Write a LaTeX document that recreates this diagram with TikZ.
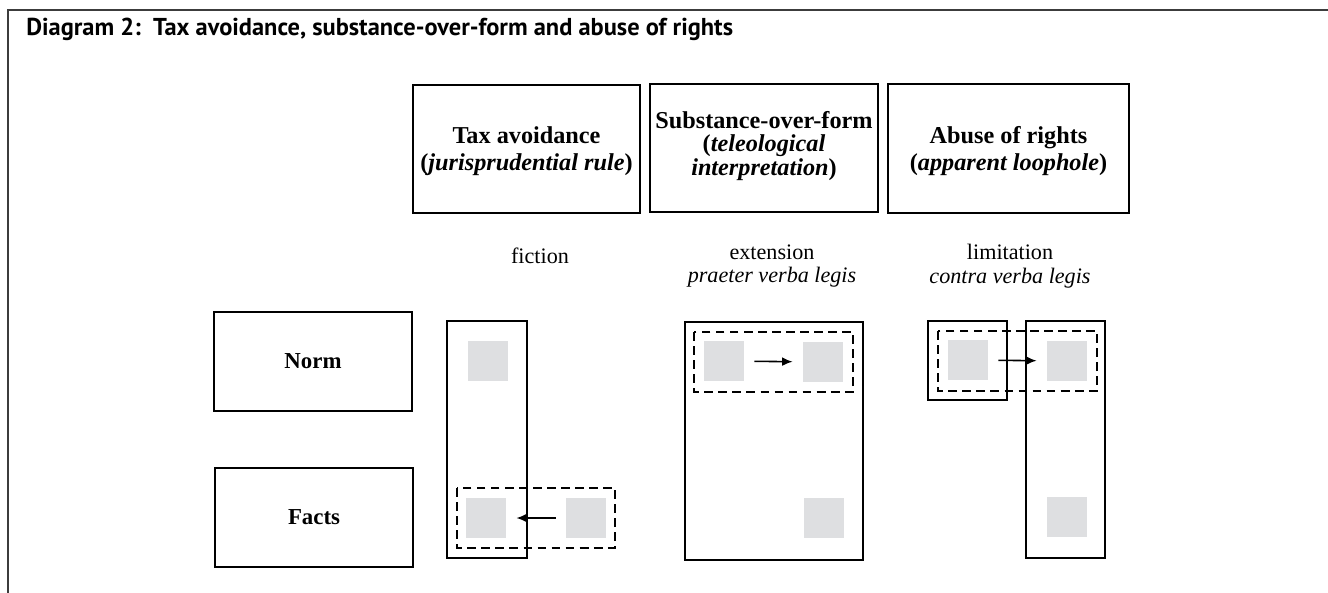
\documentclass[tikz,border=0pt]{standalone}
\usepackage{fontspec}
\setmainfont{Liberation Serif}
\newfontfamily\titlefont{PT Sans}
\usetikzlibrary{arrows.meta}
\definecolor{boxgray}{RGB}{222,223,225}
\definecolor{framegray}{RGB}{60,60,60}

\begin{document}
\begin{tikzpicture}[x=0.02cm,y=-0.02cm,
  labelbox/.style={draw,line width=0.9pt,align=center,inner sep=0pt,
    font=\fontsize{13}{15.5}\selectfont\bfseries},
  headtext/.style={align=center,inner sep=0pt,font=\fontsize{13.8}{15.3}\selectfont\bfseries},
  sq/.style={fill=boxgray,minimum size=0.8cm,inner sep=0pt},
  caption/.style={align=center,inner sep=0pt,font=\fontsize{12.6}{13.6}\selectfont},
  dashbox/.style={line width=0.8pt,dash pattern=on 5pt off 3pt},
  movearrow/.style={-{Latex[length=6pt,width=5pt]},line width=0.9pt,shorten >=0.2cm,shorten <=0.2cm}]
\useasboundingbox (0,0) rectangle (1328,592);
% --- frame and title ---
\draw[framegray,line width=0.9pt] (1340,10) -- (8,10) -- (8,600);
\node[anchor=west,inner sep=0pt,font=\titlefont\fontsize{13.9}{16}\selectfont\bfseries] (title) at (26,29)
  {Diagram 2:\ \ Tax avoidance, substance-over-form and abuse of rights};

% --- headings ---
\node[labelbox,minimum width=4.54cm,minimum height=2.56cm] (avoid) at (526.5,149) {};
\node[headtext] (avoidtxt) at (526.5,151) {Tax avoidance\\(\textit{jurisprudential rule})};
\node[labelbox,minimum width=4.56cm,minimum height=2.56cm] (subst) at (764,148) {};
\node[headtext,font=\fontsize{13.8}{13.4}\selectfont\bfseries] (substtxt) at (764,146)
  {Substance-over-form\\(\textit{teleological}\\\textit{interpretation})};
\node[labelbox,minimum width=4.82cm,minimum height=2.58cm] (abuse) at (1008.5,148.5) {};
\node[headtext] (abusetxt) at (1008.5,151) {Abuse of rights\\(\textit{apparent loophole})};

\node[caption] (fict) at (540,256) {fiction};
\node[caption] (ext) at (772,266) {extension\\\textit{praeter verba legis}};
\node[caption] (lim) at (1010,266) {limitation\\\textit{contra verba legis}};

% --- rows ---
\node[labelbox,minimum width=3.96cm,minimum height=1.98cm] (norm) at (313,361.5) {Norm};
\node[labelbox,minimum width=3.96cm,minimum height=1.98cm] (facts) at (314,517.5) {Facts};

% --- tax avoidance: fiction ---
\draw[line width=0.8pt] (447,321) rectangle (527,558);
\node[sq] (fn) at (488,361) {};
\node[sq] (fa) at (486,518) {};
\node[sq] (fb) at (586,518) {};
\draw[dashbox] (457,488) rectangle (615,548);
\draw[movearrow] (fb) -- (fa);

% --- substance-over-form: extension ---
\draw[line width=0.8pt] (685,322) rectangle (863,560);
\draw[dashbox] (694,332) rectangle (853,392);
\node[sq] (ea) at (724,361) {};
\node[sq] (eb) at (823,362) {};
\node[sq] (ef) at (824,518) {};
\draw[movearrow] (ea) -- (eb);

% --- abuse of rights: limitation ---
\draw[line width=0.8pt] (928,321) rectangle (1007,400);
\draw[line width=0.8pt] (1026,321) rectangle (1105,558);
\draw[dashbox] (938,331) rectangle (1097,391);
\node[sq] (la) at (968,360) {};
\node[sq] (lb) at (1067,361) {};
\node[sq] (lf) at (1067,517) {};
\draw[movearrow] (la) -- (lb);
\end{tikzpicture}
\end{document}
